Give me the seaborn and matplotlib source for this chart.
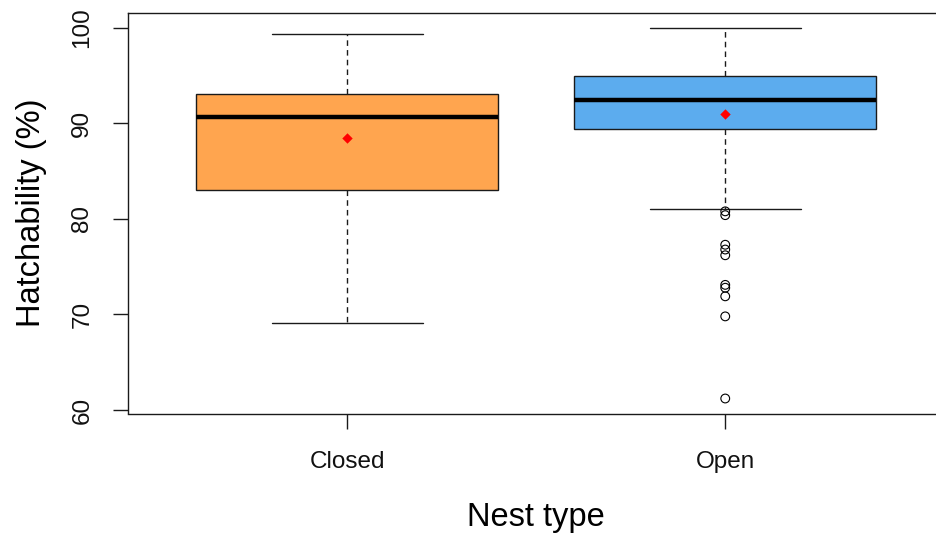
import numpy as np
import pandas as pd
import matplotlib
matplotlib.use("Agg")
import matplotlib.pyplot as plt
import seaborn as sns

# Nest types
nest_types = ["Closed", "Open"]

# Five-number summaries (lower whisker, Q1, median, Q3, upper whisker)
closed_summary = [69.1, 83.0, 90.7, 93.1, 99.4]
open_summary = [81.05, 89.4, 92.5, 95.0, 100.0]

# Group means
mean_values = [88.45, 91.0]

# Outlying observations (Open nests only)
open_outliers = [80.8, 80.4, 77.3, 76.8, 76.2, 73.1, 72.8, 71.9, 69.8, 61.2]

# Tick values
y_ticks = [60, 70, 80, 90, 100]

box_colors = {"Closed": "#FFA54F", "Open": "#5CACEE"}

sns.set_style("white")
plt.rcParams["font.family"] = ["Liberation Sans", "DejaVu Sans"]

summary_df = pd.DataFrame({
    "Nest type": ["Closed"] * len(closed_summary) + ["Open"] * len(open_summary),
    "Hatchability": closed_summary + open_summary,
})
outlier_df = pd.DataFrame({"Nest type": ["Open"] * len(open_outliers),
                           "Hatchability": open_outliers})
mean_df = pd.DataFrame({"Nest type": nest_types, "Hatchability": mean_values})

W, H = 937, 533
fig = plt.figure(figsize=(W / 100, H / 100), dpi=100)
# plot region in pixels; the frame runs on past the right edge of the canvas
left, top, bottom = 128, 12.7, 413.5
px_per_unit = 378.0
x_lo = -0.58
x_hi = x_lo + (W - left) / px_per_unit
ax = fig.add_axes([left / W, (H - bottom) / H, (W - left) / W, (bottom - top) / H])

line_col = "#1a1a1a"
sns.boxplot(
    data=summary_df, x="Nest type", y="Hatchability", hue="Nest type",
    order=nest_types, hue_order=nest_types, palette=box_colors, legend=False,
    saturation=1, width=0.8, whis=np.inf, showfliers=False,
    linewidth=1.0, linecolor=line_col,
    medianprops={"color": "black", "linewidth": 3.2, "solid_capstyle": "butt"},
    whiskerprops={"color": line_col, "linewidth": 1.0, "linestyle": (0, (4, 3))},
    capprops={"color": line_col, "linewidth": 1.0},
    boxprops={"edgecolor": line_col, "linewidth": 1.0},
    ax=ax,
)

sns.stripplot(data=outlier_df, x="Nest type", y="Hatchability", order=nest_types,
              jitter=False, marker="o", size=6.3, color="white", linewidth=0.8,
              edgecolor="black", ax=ax, zorder=5)
ax.collections[-1].set_facecolor("none")
ax.collections[-1].set_edgecolor("black")

sns.stripplot(data=mean_df, x="Nest type", y="Hatchability", order=nest_types,
              jitter=False, marker="D", size=5.3, color="#FF0000", linewidth=0,
              ax=ax, zorder=6)

ax.set_xlim(x_lo, x_hi)
ax.set_ylim(59.63, 101.6)

ax.set_yticks(y_ticks)
ax.set_yticklabels([str(v) for v in y_ticks], rotation=90, va="center")
ax.tick_params(axis="both", which="major", length=11, width=1.0, color=line_col,
               labelsize=17.5, labelcolor="#111111", left=True, bottom=True)
ax.tick_params(axis="y", pad=14)
ax.tick_params(axis="x", pad=16)

for side in ["left", "bottom", "top"]:
    ax.spines[side].set_visible(True)
    ax.spines[side].set_color(line_col)
    ax.spines[side].set_linewidth(1.0)
ax.spines["right"].set_visible(False)

ax.set_xlabel("Nest type", fontsize=23.5, color="black")
ax.set_ylabel("Hatchability (%)", fontsize=23.5, color="black")
ax.xaxis.set_label_coords((536 - left) / (W - left), -0.222)
ax.yaxis.set_label_coords(-81 / (W - left), 0.5)

fig.savefig("out.png", dpi=100, facecolor="white")
